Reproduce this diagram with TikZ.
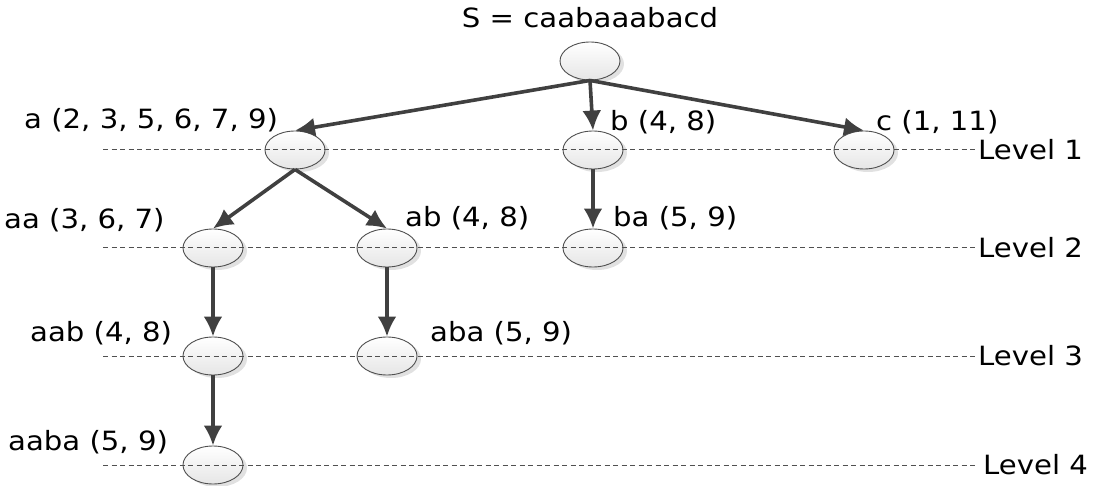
\documentclass[tikz,border=0pt]{standalone}
\usepackage{fontspec}
\setmainfont[FakeStretch=1.1]{DejaVu Sans}
\usetikzlibrary{arrows.meta,shadows,shapes.geometric}
\definecolor{edgegray}{HTML}{404040}
\definecolor{rimgray}{HTML}{505050}
\begin{document}
\begin{tikzpicture}[x=1pt,y=-1pt,
  every node/.style={font=\fontsize{26.5}{30}\selectfont},
  vertex/.style={ellipse, minimum width=60pt, minimum height=38pt, inner sep=0pt,
    draw=rimgray, line width=0.9pt, top color=white, bottom color=black!10,
    drop shadow={shadow xshift=4pt, shadow yshift=-3pt, fill=black!15, opacity=0.8}},
  tag/.style={anchor=west, inner sep=0pt},
  link/.style={draw=edgegray, line width=3.6pt, -{Latex[length=20pt,width=19pt]}},
  levelline/.style={draw=rimgray, line width=1pt, dash pattern=on 5pt off 3.5pt}
]
\useasboundingbox (0,0) rectangle (1100,486);

% trie nodes
\node[vertex] (root) at (590,61) {};
\node[vertex] (a)    at (295,150) {};
\node[vertex] (b)    at (593,150) {};
\node[vertex] (c)    at (864,150) {};
\node[vertex] (aa)   at (213,248) {};
\node[vertex] (ab)   at (387,248) {};
\node[vertex] (ba)   at (593,248) {};
\node[vertex] (aab)  at (213,356) {};
\node[vertex] (aba)  at (387,356) {};
\node[vertex] (aaba) at (213,465) {};

% level guide lines
\coordinate (l1s) at (103,150); \coordinate (l1e) at (975,150);
\coordinate (l2s) at (103,248); \coordinate (l2e) at (975,248);
\coordinate (l3s) at (103,356); \coordinate (l3e) at (975,356);
\coordinate (l4s) at (103,465); \coordinate (l4e) at (978,465);
\draw[levelline] (l1s) -- (l1e);
\draw[levelline] (l2s) -- (l2e);
\draw[levelline] (l3s) -- (l3e);
\draw[levelline] (l4s) -- (l4e);

% edges
\draw[link] (root.south) -- (a.north);
\draw[link] (root.south) -- (b.north);
\draw[link] (root.south) -- (c.north);
\draw[link] (a.south) -- (aa.north);
\draw[link] (a.south) -- (ab.north);
\draw[link] (b.south) -- (ba.north);
\draw[link] (aa.south) -- (aab.north);
\draw[link] (ab.south) -- (aba.north);
\draw[link] (aab.south) -- (aaba.north);

% labels
\node[inner sep=0pt] (title) at (590,18) {S = caabaaabacd};
\node[tag] (ta)    at (24,120)  {a (2, 3, 5, 6, 7, 9)};
\node[tag] (tb)    at (610,122) {b (4, 8)};
\node[tag] (tc)    at (876,122) {c (1, 11)};
\node[tag] (taa)   at (4,220)   {aa (3, 6, 7)};
\node[tag] (tab)   at (405,218) {ab (4, 8)};
\node[tag] (tba)   at (613,218) {ba (5, 9)};
\node[tag] (taab)  at (30,333)  {aab (4, 8)};
\node[tag] (taba)  at (430,333) {aba (5, 9)};
\node[tag] (taaba) at (8,442)   {aaba (5, 9)};

\node[tag] (lev1) at (978,150) {Level 1};
\node[tag] (lev2) at (978,248) {Level 2};
\node[tag] (lev3) at (978,356) {Level 3};
\node[tag] (lev4) at (983,465) {Level 4};
\end{tikzpicture}
\end{document}
